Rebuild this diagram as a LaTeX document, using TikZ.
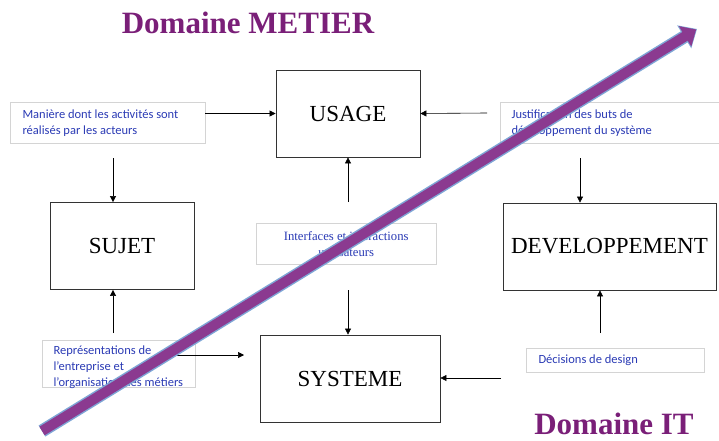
\documentclass[tikz,border=0pt]{standalone}
\usepackage{fontspec}
\setmainfont{Liberation Serif}
\newfontfamily\labelfont{Carlito}
\usetikzlibrary{arrows.meta,positioning}
\definecolor{domainpurple}{HTML}{7A1F78}
\definecolor{arrowpurple}{HTML}{8B3A90}
\definecolor{arrowedge}{HTML}{7FA6D6}
\definecolor{labelblue}{HTML}{2A3AB4}
\definecolor{labelgray}{HTML}{D4D4D4}
\definecolor{boxgray}{HTML}{333333}

\begin{document}
\begin{tikzpicture}[
    x=1pt, y=-1pt,
    block/.style={draw=boxgray, thick, minimum height=87pt, inner sep=0pt, font=\fontsize{23}{26}\selectfont},
    notebox/.style={draw=labelgray, minimum height=41pt, inner sep=0pt, anchor=north west, text=labelblue},
    notetext/.style={align=left, font=\labelfont\fontsize{12.5}{16}\selectfont, text=labelblue, anchor=west},
    domainlabel/.style={font=\bfseries\fontsize{31}{33}\selectfont, text=domainpurple, anchor=base, inner sep=0pt, text depth=0pt},
    arrow/.style={-{Triangle[length=6pt,width=6pt]}, semithick, color=black},
]
\useasboundingbox (0,0) rectangle (719,441);

% --- Domains ---
\node[domainlabel] (metier) at (248,34) {Domaine METIER};
\node[domainlabel] (it) at (614,434) {Domaine IT};

% --- Main blocks ---
\node[block, minimum width=144pt] (usage) at (348,113.5) {USAGE};
\node[block, minimum width=144pt] (sujet) at (122,246) {SUJET};
\node[block, minimum width=213pt] (dev) at (609.5,246.5) {DEVELOPPEMENT};
\node[block, minimum width=180pt] (sys) at (350,378.5) {SYSTEME};

% --- Notes ---
\node[notebox, minimum width=195pt] (maniere) at (10,102) {};
\node[notetext] at ([xshift=9pt]maniere.west) {Manière dont les activités sont\\réalisés par les acteurs};
\node[notebox, minimum width=219pt] (justif) at (500,102) {};
\node[notetext] at ([xshift=8pt]justif.west) {Justification des buts de\\développement du système};
\node[notebox, minimum width=180pt, align=center, font=\fontsize{12.7}{16}\selectfont] (inter) at (256,223) {Interfaces et interactions\\utilisateurs};
\node[notebox, minimum width=153pt, minimum height=47pt] (repr) at (42,340) {};
\node[notetext, anchor=north west] at ([xshift=8pt,yshift=-2pt]repr.north west) {Représentations de\\l’entreprise et\\l’organisation des métiers};
\node[notebox, minimum width=178pt, minimum height=24pt] (decis) at (526,348) {};
\node[notetext] at ([xshift=9pt]decis.west) {Décisions de design};

% --- Free ends ---
\coordinate (a1) at (113,158);
\coordinate (a2) at (580,158);
\coordinate (a3) at (487,113);
\coordinate (a4) at (348,202);
\coordinate (a5) at (348,290);
\coordinate (a6) at (113,333);
\coordinate (a7) at (600,333);
\coordinate (a8) at (160,355);
\coordinate (a9) at (244,355);
\coordinate (a10) at (501,378);

% --- Arrows ---
\draw[arrow] (maniere.east |- usage.west) -- (usage.west);
\draw[arrow] (a3) -- (usage.east);
\draw[arrow] (a1) -- (a1 |- sujet.north);
\draw[arrow] (a2) -- (a2 |- dev.north);
\draw[arrow] (a4) -- (usage.south);
\draw[arrow] (a5) -- (sys.north -| a5);
\draw[arrow] (a6) -- (a6 |- sujet.south);
\draw[arrow] (a7) -- (a7 |- dev.south);
\draw[arrow] (a8) -- (a9);
\draw[arrow] (a10) -- (a10 -| sys.east);

% --- Big diagonal arrow ---
\coordinate (diagstart) at (42,431);
\coordinate (diagend) at (697,29);
\draw[-{Triangle[length=15pt,width=26pt]}, line width=13pt, color=arrowedge] (diagstart) -- (diagend);
\draw[-{Triangle[length=13pt,width=23pt]}, line width=10pt, color=arrowpurple, shorten >=1pt] (diagstart) -- (diagend);

\end{tikzpicture}
\end{document}
